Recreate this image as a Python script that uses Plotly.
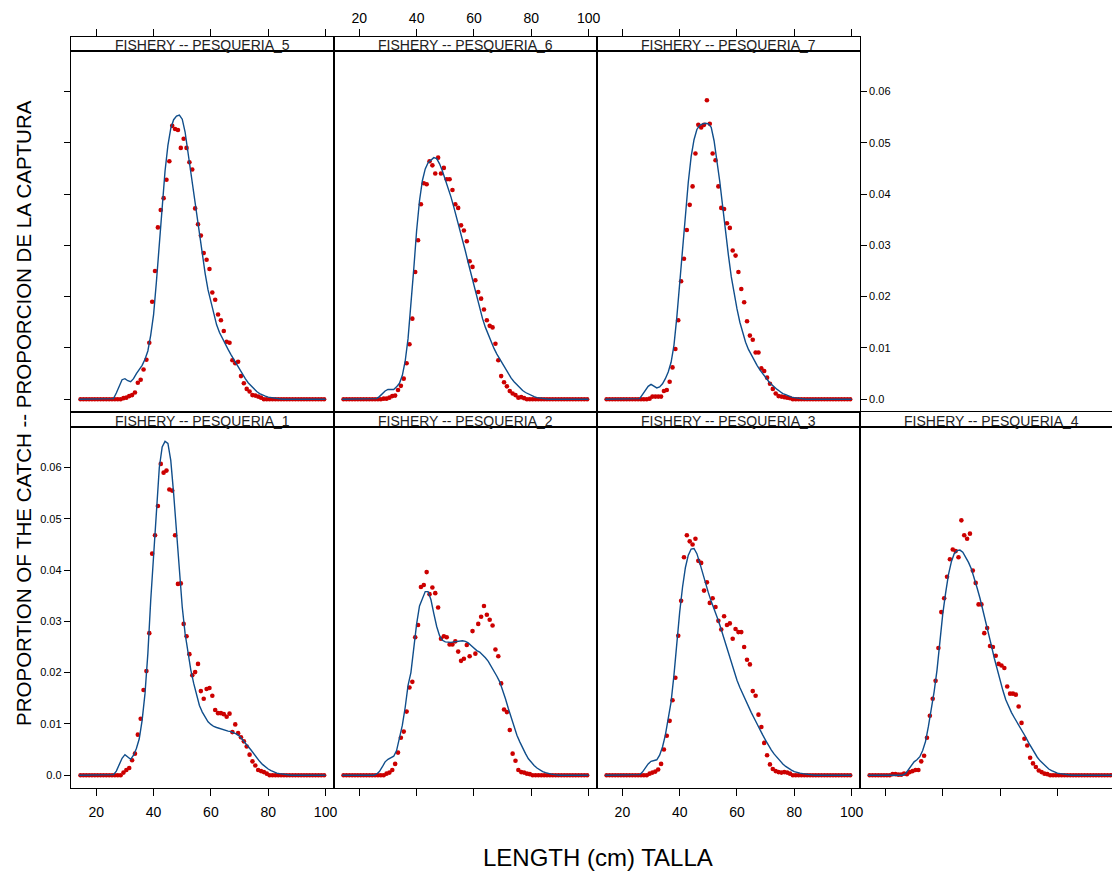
import plotly.graph_objects as go

OFF = 8                         # browser body margin; layout pixels are shifted by it
W, H = 1120 - OFF, 872 - OFF    # figure size so the page does not overflow sideways

# ---------------- data ----------------
length_obs = [14.5 + i for i in range(86)]      # observed length bins (cm)
length_fit = list(range(14, 101))                # fitted curve lengths (cm)

x_ticks = [20, 40, 60, 80, 100]
y_ticks = [0.0, 0.01, 0.02, 0.03, 0.04, 0.05, 0.06]
y_ticktext = ["0.0", "0.01", "0.02", "0.03", "0.04", "0.05", "0.06"]

panel_titles = ["FISHERY -- PESQUERIA_1", "FISHERY -- PESQUERIA_2",
                "FISHERY -- PESQUERIA_3", "FISHERY -- PESQUERIA_4",
                "FISHERY -- PESQUERIA_5", "FISHERY -- PESQUERIA_6",
                "FISHERY -- PESQUERIA_7"]

obs_1 = [0.0] * 15 + [
    0.0005, 0.0010, 0.0014, 0.0029, 0.0042, 0.0079, 0.0110, 0.0166, 0.0203, 0.0277,
    0.0432, 0.0468, 0.0525, 0.0607, 0.0590, 0.0594, 0.0557, 0.0555, 0.0468, 0.0373,
    0.0374, 0.0295, 0.0271, 0.0236, 0.0195, 0.0201, 0.0217, 0.0164, 0.0149, 0.0168,
    0.0170, 0.0155, 0.0127, 0.0121, 0.0121, 0.0119, 0.0114, 0.0120, 0.0084, 0.0099,
    0.0082, 0.0074, 0.0066, 0.0056, 0.0040, 0.0027, 0.0019, 0.0010, 0.0008, 0.0006,
    0.0003] + [0.0] * 20

obs_2 = [0.0] * 15 + [
    0.0003, 0.0005, 0.0010, 0.0022, 0.0044, 0.0073, 0.0085, 0.0124, 0.0171, 0.0182,
    0.0269, 0.0293, 0.0367, 0.0371, 0.0396, 0.0353, 0.0366, 0.0355, 0.0327, 0.0266,
    0.0271, 0.0269, 0.0255, 0.0255, 0.0261, 0.0241, 0.0223, 0.0227, 0.0254, 0.0232,
    0.0281, 0.0237, 0.0295, 0.0309, 0.0330, 0.0313, 0.0303, 0.0292, 0.0245, 0.0232,
    0.0179, 0.0128, 0.0123, 0.0088, 0.0042, 0.0028, 0.0010, 0.0006, 0.0005, 0.0003,
    0.0002] + [0.0] * 20

obs_3 = [0.0] * 15 + [
    0.0003, 0.0005, 0.0007, 0.0011, 0.0022, 0.0050, 0.0077, 0.0106, 0.0146, 0.0190,
    0.0272, 0.0340, 0.0425, 0.0468, 0.0456, 0.0450, 0.0461, 0.0418, 0.0414, 0.0360,
    0.0376, 0.0336, 0.0345, 0.0328, 0.0301, 0.0284, 0.0310, 0.0293, 0.0296, 0.0266,
    0.0285, 0.0279, 0.0279, 0.0250, 0.0225, 0.0216, 0.0164, 0.0155, 0.0118, 0.0094,
    0.0063, 0.0039, 0.0021, 0.0012, 0.0008, 0.0006, 0.0005, 0.0006, 0.0005, 0.0003
] + [0.0] * 21

obs_4 = [0.0] * 8 + [
    0.0002, 0.0002, 0.0001, 0.0001, 0.0003, 0.0002,
    0.0006, 0.0008, 0.0010, 0.0010, 0.0027, 0.0038, 0.0073, 0.0116, 0.0149, 0.0184,
    0.0248, 0.0318, 0.0345, 0.0387, 0.0421, 0.0440, 0.0437, 0.0425, 0.0497, 0.0468,
    0.0461, 0.0471, 0.0399, 0.0375, 0.0333, 0.0333, 0.0277, 0.0287, 0.0252, 0.0250,
    0.0233, 0.0217, 0.0214, 0.0209, 0.0173, 0.0159, 0.0159, 0.0157, 0.0134, 0.0102,
    0.0071, 0.0058, 0.0034, 0.0023, 0.0016, 0.0009, 0.0006, 0.0003, 0.0002
] + [0.0] * 23

obs_5 = [0.0] * 15 + [
    0.0002, 0.0003, 0.0006, 0.0008, 0.0013, 0.0032, 0.0038, 0.0058, 0.0077, 0.0110,
    0.0190, 0.0250, 0.0335, 0.0369, 0.0392, 0.0428, 0.0464, 0.0533, 0.0527, 0.0525,
    0.0490, 0.0508, 0.0490, 0.0462, 0.0448, 0.0372, 0.0341, 0.0319, 0.0285, 0.0272,
    0.0254, 0.0208, 0.0194, 0.0165, 0.0154, 0.0133, 0.0112, 0.0110, 0.0076, 0.0070,
    0.0073, 0.0045, 0.0031, 0.0020, 0.0015, 0.0008, 0.0007, 0.0005, 0.0003
] + [0.0] * 22

obs_6 = [0.0] * 14 + [
    0.0001, 0.0001, 0.0003, 0.0006, 0.0007, 0.0018, 0.0026, 0.0040, 0.0070, 0.0107,
    0.0157, 0.0248, 0.0310, 0.0380, 0.0421, 0.0419, 0.0464, 0.0456, 0.0440, 0.0471,
    0.0440, 0.0451, 0.0429, 0.0429, 0.0408, 0.0380, 0.0373, 0.0339, 0.0329, 0.0308,
    0.0269, 0.0258, 0.0232, 0.0209, 0.0196, 0.0175, 0.0154, 0.0143, 0.0140, 0.0108,
    0.0076, 0.0045, 0.0033, 0.0025, 0.0016, 0.0011, 0.0008, 0.0003, 0.0004, 0.0002
] + [0.0] * 22

obs_7 = [0.0] * 15 + [
    0.0001, 0.0005, 0.0005, 0.0005, 0.0005, 0.0016, 0.0018, 0.0034, 0.0062, 0.0098,
    0.0154, 0.0230, 0.0274, 0.0330, 0.0379, 0.0415, 0.0479, 0.0535, 0.0530, 0.0535,
    0.0583, 0.0537, 0.0479, 0.0466, 0.0415, 0.0373, 0.0371, 0.0343, 0.0334, 0.0290,
    0.0280, 0.0248, 0.0215, 0.0189, 0.0152, 0.0124, 0.0116, 0.0091, 0.0091, 0.0060,
    0.0055, 0.0042, 0.0030, 0.0020, 0.0011, 0.0006, 0.0005, 0.0004, 0.0003, 0.0002
] + [0.0] * 21

fit_1 = [0.0] * 12 + [
    0.0001, 0.0008, 0.0020, 0.0033, 0.0040, 0.0036, 0.0031, 0.0039, 0.0052, 0.0071,
    0.0107, 0.0159, 0.0237, 0.0341, 0.0432, 0.0529, 0.0600, 0.0640, 0.0651, 0.0647,
    0.0614, 0.0549, 0.0471, 0.0393, 0.0328, 0.0276, 0.0237, 0.0205, 0.0179, 0.0156,
    0.0136, 0.0123, 0.0112, 0.0104, 0.0099, 0.0095, 0.0093, 0.0091, 0.0089, 0.0088,
    0.0086, 0.0085, 0.0083, 0.0080, 0.0076, 0.0070, 0.0064, 0.0056, 0.0049, 0.0041,
    0.0034, 0.0027, 0.0021, 0.0016, 0.0012, 0.0009, 0.0006, 0.0004, 0.0003, 0.0002,
    0.0001] + [0.0] * 14

fit_2 = [0.0] * 12 + [
    0.0002, 0.0007, 0.0016, 0.0026, 0.0031, 0.0034, 0.0037, 0.0048, 0.0071, 0.0097,
    0.0132, 0.0175, 0.0200, 0.0250, 0.0295, 0.0330, 0.0345, 0.0358, 0.0358, 0.0342,
    0.0315, 0.0290, 0.0272, 0.0263, 0.0260, 0.0259, 0.0259, 0.0260, 0.0261, 0.0262,
    0.0262, 0.0261, 0.0258, 0.0253, 0.0247, 0.0243, 0.0240, 0.0235, 0.0229, 0.0222,
    0.0213, 0.0203, 0.0193, 0.0182, 0.0167, 0.0149, 0.0130, 0.0112, 0.0094, 0.0078,
    0.0065, 0.0052, 0.0042, 0.0032, 0.0025, 0.0019, 0.0014, 0.0010, 0.0007, 0.0005,
    0.0003, 0.0002, 0.0001] + [0.0] * 12

fit_3 = [0.0] * 12 + [
    0.0001, 0.0006, 0.0014, 0.0022, 0.0027, 0.0029, 0.0030, 0.0039, 0.0055, 0.0078,
    0.0108, 0.0143, 0.0195, 0.0262, 0.0318, 0.0367, 0.0405, 0.0429, 0.0441, 0.0442,
    0.0432, 0.0414, 0.0393, 0.0374, 0.0356, 0.0339, 0.0325, 0.0309, 0.0293, 0.0275,
    0.0255, 0.0237, 0.0219, 0.0201, 0.0185, 0.0171, 0.0158, 0.0146, 0.0134, 0.0122,
    0.0111, 0.0099, 0.0088, 0.0078, 0.0068, 0.0058, 0.0049, 0.0041, 0.0034, 0.0027,
    0.0022, 0.0017, 0.0013, 0.0010, 0.0007, 0.0005, 0.0004, 0.0003, 0.0002, 0.0001
] + [0.0] * 15

fit_4 = [0.0] * 12 + [
    0.0000, 0.0003, 0.0011, 0.0020, 0.0026, 0.0030, 0.0036, 0.0048, 0.0066, 0.0095,
    0.0127, 0.0163, 0.0205, 0.0260, 0.0314, 0.0355, 0.0391, 0.0416, 0.0432, 0.0438,
    0.0439, 0.0435, 0.0426, 0.0415, 0.0402, 0.0385, 0.0365, 0.0345, 0.0323, 0.0299,
    0.0276, 0.0252, 0.0228, 0.0206, 0.0184, 0.0165, 0.0147, 0.0133, 0.0122, 0.0112,
    0.0103, 0.0094, 0.0084, 0.0074, 0.0063, 0.0053, 0.0043, 0.0035, 0.0028, 0.0022,
    0.0016, 0.0012, 0.0009, 0.0006, 0.0004, 0.0003, 0.0002, 0.0001
] + [0.0] * 17

fit_5 = [0.0] * 12 + [
    0.0001, 0.0012, 0.0027, 0.0038, 0.0040, 0.0036, 0.0034, 0.0040, 0.0050, 0.0058,
    0.0066, 0.0078, 0.0094, 0.0125, 0.0165, 0.0230, 0.0300, 0.0375, 0.0445, 0.0495,
    0.0528, 0.0545, 0.0552, 0.0554, 0.0546, 0.0521, 0.0482, 0.0440, 0.0404, 0.0359,
    0.0317, 0.0281, 0.0245, 0.0213, 0.0190, 0.0165, 0.0145, 0.0130, 0.0118, 0.0107,
    0.0097, 0.0087, 0.0077, 0.0067, 0.0057, 0.0048, 0.0040, 0.0032, 0.0026, 0.0020,
    0.0015, 0.0011, 0.0008, 0.0006, 0.0004, 0.0003, 0.0002, 0.0001
] + [0.0] * 17

fit_6 = [0.0] * 12 + [
    0.0001, 0.0005, 0.0011, 0.0016, 0.0019, 0.0019, 0.0019, 0.0024, 0.0031, 0.0046,
    0.0074, 0.0118, 0.0181, 0.0254, 0.0329, 0.0387, 0.0426, 0.0449, 0.0461, 0.0467,
    0.0471, 0.0469, 0.0459, 0.0445, 0.0429, 0.0412, 0.0394, 0.0374, 0.0354, 0.0333,
    0.0311, 0.0289, 0.0266, 0.0243, 0.0220, 0.0198, 0.0177, 0.0157, 0.0140, 0.0125,
    0.0112, 0.0099, 0.0088, 0.0078, 0.0068, 0.0058, 0.0049, 0.0041, 0.0034, 0.0028,
    0.0022, 0.0017, 0.0013, 0.0010, 0.0007, 0.0005, 0.0003, 0.0002, 0.0001
] + [0.0] * 16

fit_7 = [0.0] * 12 + [
    0.0001, 0.0009, 0.0017, 0.0025, 0.0029, 0.0026, 0.0022, 0.0024, 0.0030, 0.0040,
    0.0053, 0.0072, 0.0105, 0.0160, 0.0225, 0.0290, 0.0360, 0.0423, 0.0473, 0.0506,
    0.0526, 0.0534, 0.0537, 0.0538, 0.0537, 0.0530, 0.0504, 0.0466, 0.0424, 0.0376,
    0.0325, 0.0281, 0.0239, 0.0206, 0.0176, 0.0150, 0.0128, 0.0111, 0.0097, 0.0086,
    0.0076, 0.0066, 0.0057, 0.0049, 0.0042, 0.0035, 0.0029, 0.0023, 0.0019, 0.0015,
    0.0011, 0.0009, 0.0006, 0.0004, 0.0003, 0.0002, 0.0001
] + [0.0] * 18

obs_all = [obs_1, obs_2, obs_3, obs_4, obs_5, obs_6, obs_7]
fit_all = [fit_1, fit_2, fit_3, fit_4, fit_5, fit_6, fit_7]

# ---------------- layout geometry (pixels, as seen on the page) ----------------
RED = "#CC0000"
BLUE = "#104E8B"
FONT = "Liberation Sans, Arial, sans-serif"

col_px = [(71, 335), (335, 599), (599, 863), (863, 1127)]
panel_rows = {"bottom": (427, 788), "top": (51, 412)}
strip_rows = {"bottom": (412, 427), "top": (37, 51)}
placement = [("bottom", 0), ("bottom", 1), ("bottom", 2), ("bottom", 3),
             ("top", 0), ("top", 1), ("top", 2)]
XLO, XHI = 11.1, 102.9
YLO, YHI = -0.0025, 0.0679


def fx(px):
    return (px - OFF) / W


def fy(py):
    return 1 - (py - OFF) / H


def xdom(c):
    x0, x1 = col_px[c]
    return [fx(x0), min(fx(x1), 1.0)]


def xrng(c):
    x0, x1 = col_px[c]
    vis = min(x1, OFF + W)
    return [XLO, XLO + (vis - x0) / (x1 - x0) * (XHI - XLO)]


def ydom(y0, y1):
    return [fy(y1), fy(y0)]


def ax(name, k):
    return name if k == 1 else f"{name}{k}"


fig = go.Figure()
layout = {}
annotations = []

for i in range(7):
    k = i + 1          # data subplot
    s = i + 8          # strip subplot
    row, col = placement[i]
    xd = xdom(col)
    xr = xrng(col)
    py0, py1 = panel_rows[row]
    sy0, sy1 = strip_rows[row]
    last_col = (col == 3)

    fig.add_trace(go.Scatter(
        x=length_obs, y=obs_all[i], mode="markers",
        marker=dict(color=RED, size=4.6, line=dict(width=0)),
        xaxis=ax("x", k), yaxis=ax("y", k), showlegend=False, hoverinfo="skip"))
    fig.add_trace(go.Scatter(
        x=length_fit, y=fit_all[i], mode="lines",
        line=dict(color=BLUE, width=1.4),
        xaxis=ax("x", k), yaxis=ax("y", k), showlegend=False, hoverinfo="skip"))

    xa = dict(domain=xd, range=xr, anchor=ax("y", k), showline=True,
              linecolor="black", linewidth=1, mirror=True,
              showgrid=False, zeroline=False, tickvals=x_ticks,
              ticktext=[str(t) for t in x_ticks],
              tickfont=dict(size=14, color="black", family=FONT),
              tickcolor="black", fixedrange=True)
    if row == "bottom":
        xa.update(ticks="outside", ticklen=7, tickwidth=1,
                  showticklabels=(col in (0, 2)), ticklabelstandoff=4)
    else:
        xa.update(ticks="", showticklabels=False)
    layout[ax("xaxis", k)] = xa

    ya = dict(domain=ydom(py0, py1), range=[YLO, YHI], anchor=ax("x", k),
              showline=True, linecolor="black", linewidth=1,
              mirror=(not last_col), showgrid=False, zeroline=False,
              tickvals=y_ticks, ticktext=y_ticktext,
              tickfont=dict(size=11, color="black", family=FONT),
              tickcolor="black", fixedrange=True)
    if k == 1:
        ya.update(ticks="outside", ticklen=6, tickwidth=1, showticklabels=True)
    elif k == 5:
        ya.update(ticks="outside", ticklen=6, tickwidth=1, showticklabels=False)
    elif k == 7:
        ya.update(side="right", ticks="outside", ticklen=6, tickwidth=1,
                  showticklabels=True, mirror=True)
    else:
        ya.update(ticks="", showticklabels=False)
    layout[ax("yaxis", k)] = ya

    sxa = dict(domain=xd, range=xr, anchor=ax("y", s), showline=True,
               linecolor="black", linewidth=1, mirror=True, showgrid=False,
               zeroline=False, side="top", tickvals=x_ticks,
               ticktext=[str(t) for t in x_ticks],
               tickfont=dict(size=14, color="black", family=FONT),
               tickcolor="black", fixedrange=True)
    if row == "top":
        sxa.update(ticks="outside", ticklen=7, tickwidth=1,
                   showticklabels=(col == 1), ticklabelstandoff=0)
    else:
        sxa.update(ticks="", showticklabels=False)
    layout[ax("xaxis", s)] = sxa
    layout[ax("yaxis", s)] = dict(domain=ydom(sy0, sy1), range=[0, 1],
                                  anchor=ax("x", s), showline=True,
                                  linecolor="black", linewidth=1,
                                  mirror=(not last_col), showgrid=False,
                                  zeroline=False, ticks="",
                                  showticklabels=False, fixedrange=True)
    fig.add_trace(go.Scatter(x=[None], y=[None], xaxis=ax("x", s),
                             yaxis=ax("y", s), showlegend=False,
                             hoverinfo="skip"))

    cx = (col_px[col][0] + col_px[col][1]) / 2
    annotations.append(dict(
        text=panel_titles[i], x=fx(cx), y=fy(sy1), xref="paper",
        yref="paper", xanchor="center", yanchor="bottom", yshift=-4,
        showarrow=False, font=dict(size=14, color="#222222", family=FONT)))

annotations.append(dict(
    text="LENGTH (cm) TALLA", x=fx(600), y=fy(857), xref="paper",
    yref="paper", xanchor="center", yanchor="middle", showarrow=False,
    font=dict(size=24, color="black", family=FONT)))
annotations.append(dict(
    text="PROPORTION OF THE CATCH -- PROPORCION DE LA CAPTURA",
    x=fx(23), y=fy(413), xref="paper", yref="paper", xanchor="center",
    yanchor="middle", textangle=-90, showarrow=False,
    font=dict(size=20.5, color="black", family=FONT)))

fig.update_layout(**layout)
fig.update_layout(
    width=W, height=H, margin=dict(l=0, r=0, t=0, b=0, pad=0),
    paper_bgcolor="white", plot_bgcolor="white",
    annotations=annotations, showlegend=False,
    font=dict(family=FONT, color="black"))

fig.write_html("out.html", config={"displayModeBar": False})
